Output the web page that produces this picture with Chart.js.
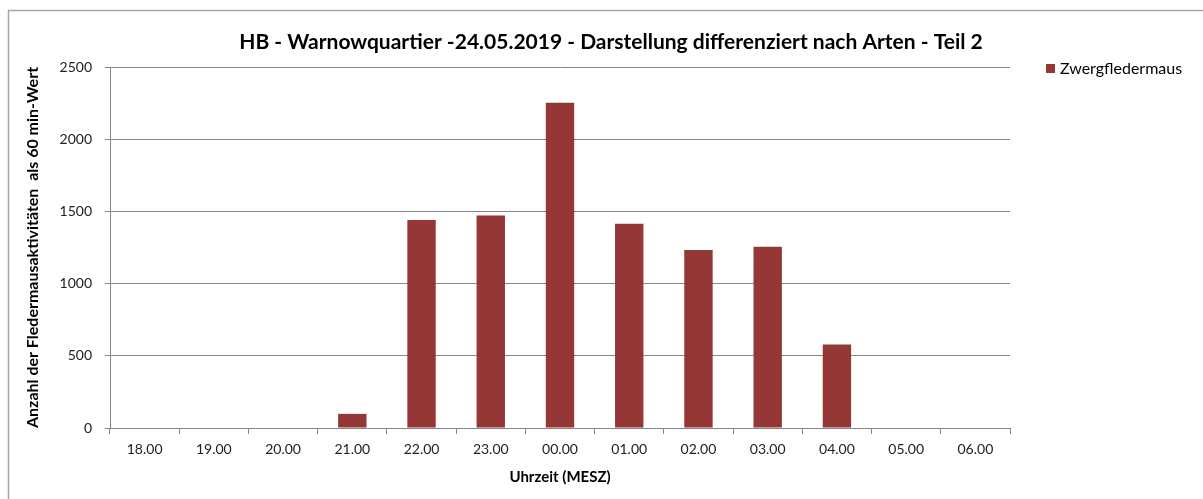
<!DOCTYPE html>
<html>
<head>
<meta charset="utf-8">
<script src="https://cdn.jsdelivr.net/npm/chart.js@4"></script>
<style>
  html, body { margin: 0; padding: 0; background: #fff; }
  #wrap { width: 1203px; height: 499px; }
</style>
</head>
<body>
<div id="wrap"><canvas id="chartArten" width="1203" height="499"></canvas></div>
<script>
// ── Data ─────────────────────────────────────────────
const hours  = ['18.00','19.00','20.00','21.00','22.00','23.00','00.00','01.00','02.00','03.00','04.00','05.00','06.00'];
const zwerg  = [0, 0, 0, 98, 1440, 1472, 2253, 1415, 1233, 1256, 578, 0, 0];
const yTicks = [0, 500, 1000, 1500, 2000, 2500];

const chartTitle = 'HB - Warnowquartier -24.05.2019 - Darstellung differenziert nach Arten - Teil 2';
const FONT = 'Lato, "Open Sans", sans-serif';
const GRID = '#868686';

// frame, title and legend drawn on top of the canvas
const decor = {
  id: 'decor',
  afterDraw(chart) {
    const c = chart.ctx;
    c.save();
    // outer frame (top + left edge only visible)
    c.strokeStyle = '#a6a6a6';
    c.lineWidth = 1.5;
    c.beginPath();
    c.moveTo(8.5, 499); c.lineTo(8.5, 10.5); c.lineTo(1203, 10.5);
    c.stroke();
    // title
    c.fillStyle = '#000';
    c.font = `bold 21px ${FONT}`;
    c.textAlign = 'center';
    c.textBaseline = 'middle';
    c.fillText(chartTitle, 611, 42);
    // legend
    const ds = chart.data.datasets[0];
    c.fillStyle = ds.backgroundColor;
    c.fillRect(1046, 64, 9, 9);
    c.fillStyle = '#000';
    c.font = `16px ${FONT}`;
    c.textAlign = 'left';
    c.fillText(ds.label, 1060, 69);
    c.restore();
  }
};

new Chart(document.getElementById('chartArten').getContext('2d'), {
  type: 'bar',
  data: {
    labels: hours,
    datasets: [{
      label: 'Zwergfledermaus',
      data: zwerg,
      backgroundColor: '#953735',
      categoryPercentage: 1,
      barPercentage: 0.41
    }]
  },
  options: {
    responsive: false,
    animation: false,
    layout: { padding: { top: 67, left: 10, right: 193, bottom: 0 } },
    plugins: { legend: { display: false }, title: { display: false }, tooltip: { enabled: false } },
    scales: {
      x: {
        grid: { drawOnChartArea: false, drawTicks: true, tickLength: 6, color: GRID, offset: true },
        border: { color: GRID, width: 1 },
        ticks: { color: '#222', font: { family: FONT, size: 14 }, padding: 7, maxRotation: 0 },
        title: { display: true, text: 'Uhrzeit (MESZ)', color: '#000',
                 font: { family: FONT, size: 15, weight: 'bold' }, padding: { top: 0, bottom: 13 } },
        afterFit(s) { s.height = 71; }
      },
      y: {
        min: 0, max: 2500,
        afterBuildTicks(s) { s.ticks = yTicks.map(v => ({ value: v })); },
        grid: { color: GRID, tickLength: 5 },
        border: { color: GRID, width: 1 },
        ticks: { color: '#222', font: { family: FONT, size: 14 }, padding: 13, callback: v => String(v) },
        title: { display: true, text: 'Anzahl der Fledermausaktivitäten  als 60 min-Wert', color: '#000',
                 font: { family: FONT, size: 16, weight: 'bold' }, padding: { top: 13, bottom: 0 } },
        afterFit(s) { s.width = 100; }
      }
    }
  },
  plugins: [decor]
});
</script>
</body>
</html>
